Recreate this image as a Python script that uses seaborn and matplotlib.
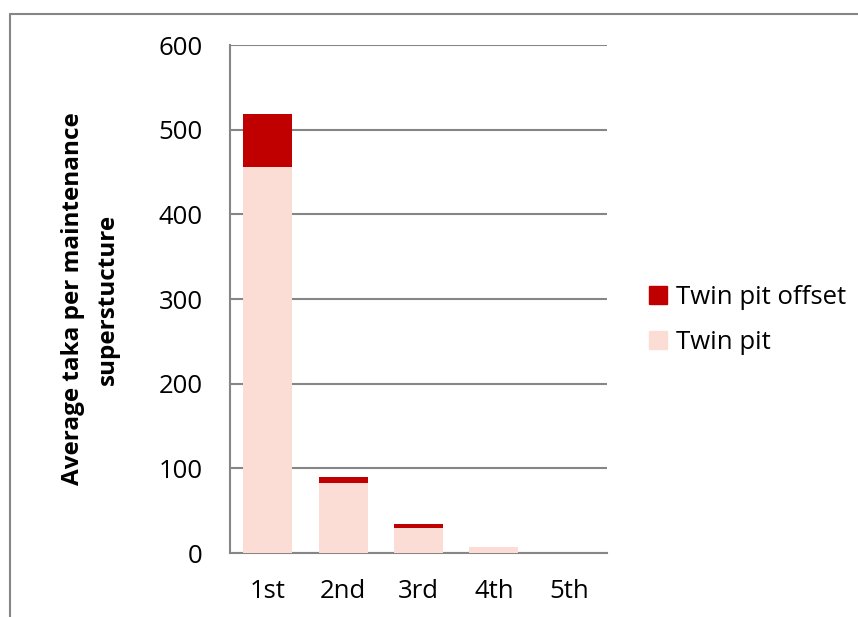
import pandas as pd
import matplotlib.pyplot as plt
import seaborn as sns
from matplotlib.lines import Line2D
from matplotlib.patches import Patch

# values
visits = ["1st", "2nd", "3rd", "4th", "5th"]
twin_pit = [456, 83, 29, 7, 0]
twin_pit_offset = [62, 7, 5, 0, 0]

DARK_RED = "#C00000"
LIGHT_PINK = "#FCDDD5"
GRID = "#868686"

df = pd.DataFrame({"visit": visits, "twin_pit": twin_pit, "offset": twin_pit_offset})

sns.set_style("white")
plt.rcParams["font.family"] = ["Open Sans", "DejaVu Sans"]
plt.rcParams["text.color"] = "black"
plt.rcParams["axes.labelcolor"] = "black"

fig = plt.figure(figsize=(8.58, 6.17), dpi=100)
ax = fig.add_axes([0.268, 0.1037, 0.4394, 0.8233])

sns.barplot(data=df, x="visit", y="twin_pit", color=LIGHT_PINK, saturation=1,
            width=0.65, linewidth=0, ax=ax, zorder=3)
sns.barplot(data=df, x="visit", y="offset", color=DARK_RED, saturation=1,
            width=0.65, linewidth=0, bottom=df["twin_pit"], ax=ax, zorder=3)

ax.set_ylim(0, 600)
ax.set_yticks(range(0, 601, 100))
ax.yaxis.grid(True, color=GRID, linewidth=1.5, zorder=0)
ax.set_axisbelow(True)
ax.tick_params(axis="both", length=0, labelsize=18.5, colors="black")
ax.tick_params(axis="y", pad=19.5)
ax.tick_params(axis="x", pad=19)
ax.set_xlabel("")
ax.set_ylabel("Average taka per maintenance\nsuperstucture", fontsize=17.5,
              fontweight="bold", linespacing=1.6)
ax.yaxis.set_label_coords(-0.292, 0.5)

for side in ["top", "right"]:
    ax.spines[side].set_visible(False)
for side in ["left", "bottom"]:
    ax.spines[side].set_color(GRID)
    ax.spines[side].set_linewidth(1.5)

handles = [Patch(color=DARK_RED, label="Twin pit offset"),
           Patch(color=LIGHT_PINK, label="Twin pit")]
fig.legend(handles=handles, loc="center left", bbox_to_anchor=(0.7564, 0.4814),
           frameon=False, fontsize=18.5, handlelength=0.7, handleheight=0.7,
           labelspacing=0.8, handletextpad=0.35, borderpad=0, borderaxespad=0)

# partial outer frame like the original screenshot
fig.add_artist(Line2D([0.0115, 1.0], [0.978, 0.978], color=GRID, linewidth=1.5))
fig.add_artist(Line2D([0.0115, 0.0115], [0.0, 0.978], color=GRID, linewidth=1.5))

fig.savefig("out.png", dpi=100)
